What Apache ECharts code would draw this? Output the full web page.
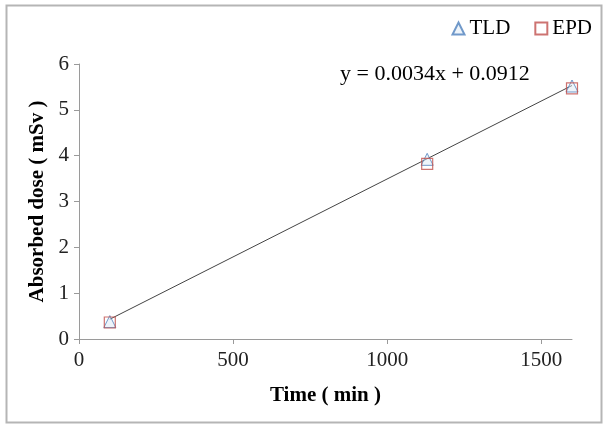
<!DOCTYPE html>
<html>
<head>
<meta charset="utf-8">
<script src="https://cdn.jsdelivr.net/npm/echarts@6/dist/echarts.min.js"></script>
<style>
  html, body { margin: 0; padding: 0; background: #fff; }
  #main { width: 603px; height: 424px; }
</style>
</head>
<body>
<div id="main"></div>
<script>
// data
var timeMin = [100, 1130, 1600];
var tldDose = [0.38, 3.92, 5.52];
var epdDose = [0.36, 3.82, 5.47];
// trendline from the printed equation
var trendSlope = 0.0034;
var trendIntercept = 0.0912;
var trendX = [100, 1600];

var serif = '"Liberation Serif", "Times New Roman", serif';

function pairs(xs, ys) {
  return xs.map(function (x, i) { return [x, ys[i]]; });
}
var trendData = trendX.map(function (x) { return [x, trendSlope * x + trendIntercept]; });

var chart = echarts.init(document.getElementById('main'));
chart.setOption({
  animation: false,
  backgroundColor: '#fff',
  textStyle: { fontFamily: serif },
  grid: { left: 79, right: 31, top: 64, bottom: 85 },
  legend: {
    right: 6, top: 13,
    itemWidth: 12, itemHeight: 12, itemGap: 24,
    textStyle: { fontFamily: serif, fontSize: 21, color: '#000' },
    data: ['TLD', 'EPD']
  },
  xAxis: {
    type: 'value', min: 0, max: 1600, interval: 500,
    name: 'Time ( min )', nameLocation: 'middle', nameGap: 46,
    nameTextStyle: { fontFamily: serif, fontSize: 21, fontWeight: 'bold', color: '#000' },
    axisLine: { lineStyle: { color: '#9a9a9a', width: 1 } },
    axisTick: { show: true, length: 5, lineStyle: { color: '#9a9a9a' } },
    axisLabel: {
      fontFamily: serif, fontSize: 21, color: '#222', margin: 11, showMaxLabel: false,
      formatter: function (v) { return String(v); }
    },
    splitLine: { show: false }
  },
  yAxis: {
    type: 'value', min: 0, max: 6, interval: 1,
    name: 'Absorbed dose ( mSv )', nameLocation: 'middle', nameGap: 29, nameRotate: 90,
    nameTextStyle: { fontFamily: serif, fontSize: 21, fontWeight: 'bold', color: '#000' },
    axisLine: { show: true, lineStyle: { color: '#9a9a9a', width: 1 } },
    axisTick: { show: true, length: 5, lineStyle: { color: '#9a9a9a' } },
    axisLabel: { fontFamily: serif, fontSize: 21, color: '#222', margin: 10 },
    splitLine: { show: false }
  },
  series: [
    {
      name: 'trend', type: 'line', data: trendData,
      symbol: 'none', lineStyle: { color: '#444', width: 1 },
      silent: true, z: 1
    },
    {
      name: 'TLD', type: 'scatter', data: pairs(timeMin, tldDose),
      symbol: 'triangle', symbolSize: 12,
      itemStyle: { color: 'rgba(220,232,245,0.6)', borderColor: '#4f81bd', borderWidth: 1 },
      z: 3
    },
    {
      name: 'EPD', type: 'scatter', data: pairs(timeMin, epdDose),
      symbol: 'rect', symbolSize: 11,
      itemStyle: { color: 'rgba(255,255,255,0)', borderColor: '#c0504d', borderWidth: 1.2 },
      z: 4
    }
  ],
  graphic: [
    {
      type: 'rect', left: 4, top: 3, silent: true,
      shape: { width: 595, height: 417 },
      style: { fill: 'none', stroke: '#b5b5b5', lineWidth: 2 }
    },
    {
      type: 'text', left: 340, top: 63,
      style: { text: 'y = 0.0034x + 0.0912', font: '22px ' + serif, fill: '#000' }
    }
  ]
});
</script>
</body>
</html>
